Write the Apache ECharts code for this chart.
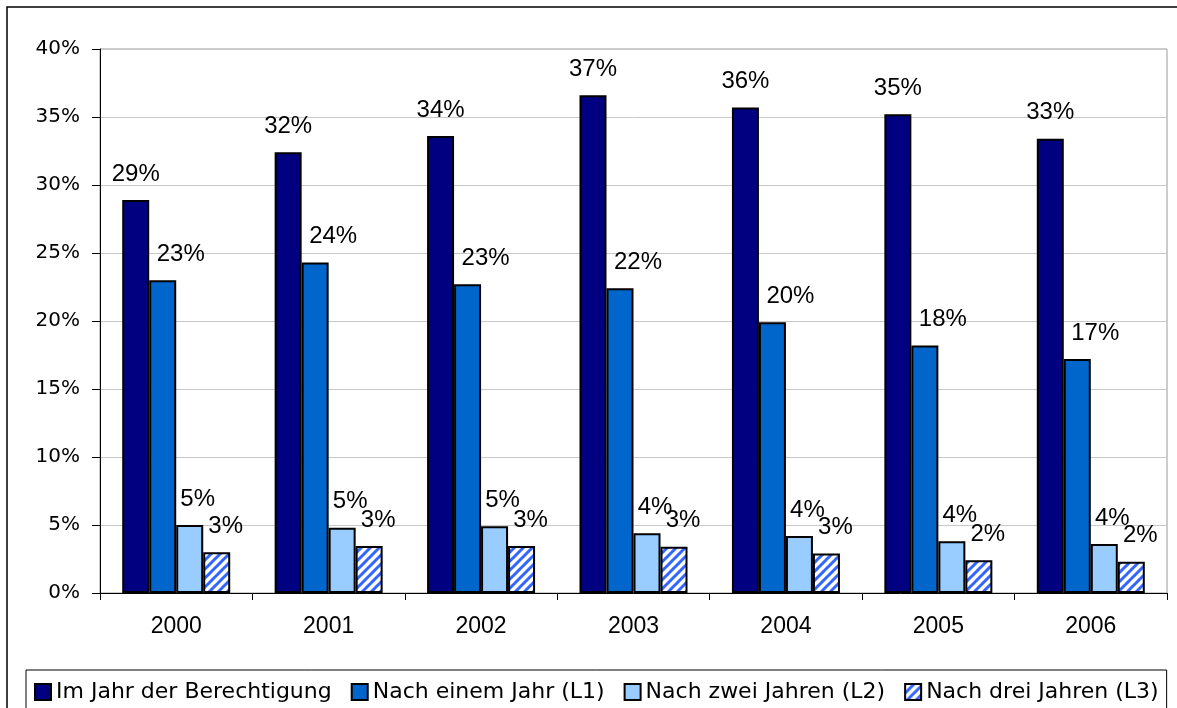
<!DOCTYPE html>
<html>
<head>
<meta charset="utf-8">
<script src="https://cdn.jsdelivr.net/npm/echarts@6/dist/echarts.min.js"></script>
<style>
  html, body { margin: 0; padding: 0; background: #fff; }
  #chart { width: 1177px; height: 708px; }
</style>
</head>
<body>
<div id="chart"></div>
<script>
// Daten (Anteile in %)
var years = ['2000', '2001', '2002', '2003', '2004', '2005', '2006'];
var seriesNames = ['Im Jahr der Berechtigung', 'Nach einem Jahr (L1)', 'Nach zwei Jahren (L2)', 'Nach drei Jahren (L3)'];
var imJahr = [28.9, 32.4, 33.6, 36.6, 35.7, 35.2, 33.4];
var nachEinem = [23.0, 24.3, 22.7, 22.4, 19.9, 18.2, 17.2];
var nachZwei = [5.0, 4.8, 4.9, 4.4, 4.2, 3.8, 3.6];
var nachDrei = [3.0, 3.45, 3.45, 3.4, 2.9, 2.4, 2.3];
var yTicks = [0, 5, 10, 15, 20, 25, 30, 35, 40];

// Schraffur fuer L3
function stripePattern() {
    var c = document.createElement('canvas');
    c.width = 9; c.height = 9;
    var ctx = c.getContext('2d');
    ctx.fillStyle = '#ffffff';
    ctx.fillRect(0, 0, 9, 9);
    ctx.strokeStyle = '#3366ff';
    ctx.lineWidth = 3;
    ctx.beginPath();
    ctx.moveTo(-1, 10); ctx.lineTo(10, -1);
    ctx.moveTo(-5.5, 5.5); ctx.lineTo(5.5, -5.5);
    ctx.moveTo(3.5, 14.5); ctx.lineTo(14.5, 3.5);
    ctx.stroke();
    return { image: c, repeat: 'repeat' };
}

function makeSeries(name, data, color, offsetX) {
    return {
        name: name,
        type: 'bar',
        data: data,
        barWidth: 27,
        barGap: '0%',
        itemStyle: { color: color, borderColor: '#000', borderWidth: 2 },
        label: {
            show: true,
            position: 'top',
            distance: 14,
            offset: [offsetX, 0],
            fontFamily: 'Liberation Sans, Arial',
            fontSize: 24,
            color: '#000',
            formatter: function (p) { return Math.round(p.value) + '%'; }
        }
    };
}

var chart = echarts.init(document.getElementById('chart'));
var option = {
    animation: false,
    graphic: [{
        type: 'rect',
        shape: { x: 7, y: 7, width: 1300, height: 1000 },
        style: { fill: 'none', stroke: '#000', lineWidth: 1.5 },
        z: -1
    }],
    grid: {
        left: 100, right: 10, top: 49, bottom: 115,
        show: true, borderColor: '#999', borderWidth: 1
    },
    legend: {
        left: 26, top: 670,
        icon: 'rect',
        itemWidth: 16, itemHeight: 16, itemGap: 19,
        padding: [11, 8, 10, 8],
        borderColor: '#000', borderWidth: 1,
        textStyle: { fontFamily: 'DejaVu Sans', fontSize: 22, color: '#000' },
        data: seriesNames
    },
    xAxis: {
        type: 'category',
        data: years,
        axisLine: { lineStyle: { color: '#000', width: 1 } },
        axisTick: { show: true, length: 7, lineStyle: { color: '#000' } },
        axisLabel: { margin: 22, fontFamily: 'Liberation Sans, Arial', fontSize: 23, color: '#000' }
    },
    yAxis: {
        type: 'value',
        min: yTicks[0], max: yTicks[yTicks.length - 1], interval: 5,
        axisLine: { show: true, lineStyle: { color: '#000', width: 1 } },
        axisTick: { show: true, length: 8, lineStyle: { color: '#000' } },
        axisLabel: { margin: 20, fontFamily: 'DejaVu Sans', fontSize: 20, color: '#000', formatter: '{value}%' },
        splitLine: { lineStyle: { color: '#c8c8c8' } }
    },
    series: [
        makeSeries(seriesNames[0], imJahr, '#000080', 0),
        makeSeries(seriesNames[1], nachEinem, '#0066cc', 18),
        makeSeries(seriesNames[2], nachZwei, '#99ccff', 8),
        makeSeries(seriesNames[3], nachDrei, stripePattern(), 9)
    ]
};
chart.setOption(option);
</script>
</body>
</html>
